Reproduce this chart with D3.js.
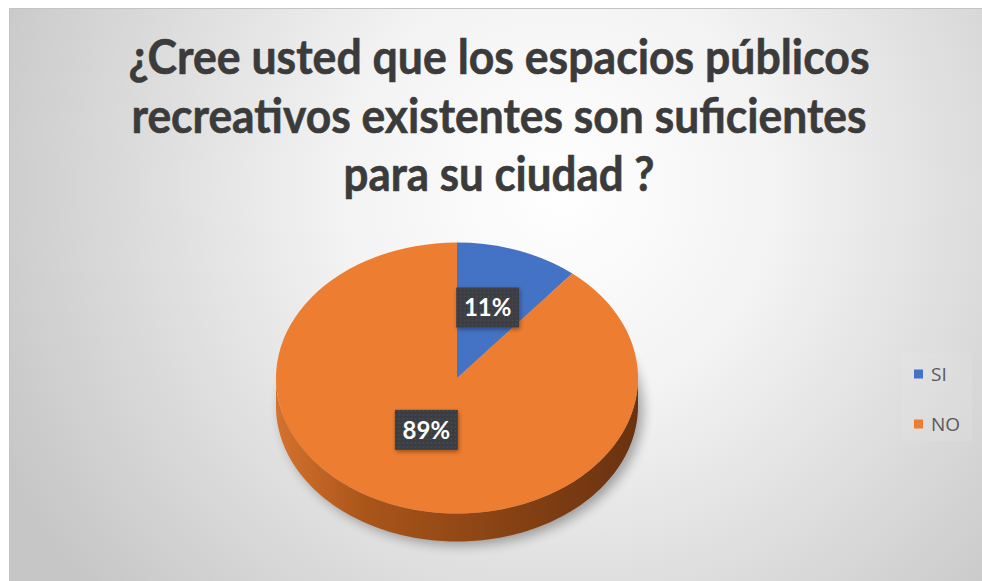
<!DOCTYPE html>
<html>
<head>
<meta charset="utf-8">
<script src="https://cdn.jsdelivr.net/npm/d3@7"></script>
<style>
  body { margin: 0; background: #fff; }
  svg { display: block; }
</style>
</head>
<body>
<div id="vis"></div>
<script>
// ==== DATA ====
const categories = ["SI", "NO"];
const values = [11, 89];
const sliceColors = ["#4472C4", "#ED7D31"];
const titleLines = [
  "¿Cree usted que los espacios públicos",
  "recreativos existentes son suficientes",
  "para su ciudad ?"
];

// ==== LAYOUT ====
const width = 982, height = 581;
const frame = {x: 9, y: 8, w: 973, h: 573};
const cx = 457, cy = 378, rx = 181, ry = 135.5, depth = 28;

const svg = d3.select("#vis")
  .append("svg")
  .attr("width", width)
  .attr("height", height);

const defs = svg.append("defs");

// background gradient
const bg = defs.append("radialGradient")
  .attr("id", "bg")
  .attr("gradientUnits", "userSpaceOnUse")
  .attr("cx", 560).attr("cy", 190).attr("r", 620);
bg.append("stop").attr("offset", 0).attr("stop-color", "#ffffff");
bg.append("stop").attr("offset", 0.35).attr("stop-color", "#f3f3f3");
bg.append("stop").attr("offset", 1).attr("stop-color", "#c6c6c6");

// side wall gradient
const side = defs.append("linearGradient")
  .attr("id", "side")
  .attr("gradientUnits", "userSpaceOnUse")
  .attr("x1", cx - rx).attr("x2", cx + rx).attr("y1", 0).attr("y2", 0);
side.append("stop").attr("offset", 0).attr("stop-color", "#d4722e");
side.append("stop").attr("offset", 0.25).attr("stop-color", "#a9551a");
side.append("stop").attr("offset", 0.6).attr("stop-color", "#8a4414");
side.append("stop").attr("offset", 1).attr("stop-color", "#6a3210");

const blur = defs.append("filter").attr("id", "blur")
  .attr("x", "-20%").attr("y", "-20%").attr("width", "140%").attr("height", "140%");
blur.append("feGaussianBlur").attr("stdDeviation", 6);

const boxShadow = defs.append("filter").attr("id", "boxShadow")
  .attr("x", "-30%").attr("y", "-30%").attr("width", "160%").attr("height", "160%");
boxShadow.append("feDropShadow")
  .attr("dx", 1).attr("dy", 2).attr("stdDeviation", 2)
  .attr("flood-color", "#000").attr("flood-opacity", 0.35);

const dots = defs.append("pattern")
  .attr("id", "dots")
  .attr("patternUnits", "userSpaceOnUse")
  .attr("width", 4).attr("height", 4);
dots.append("rect").attr("width", 4).attr("height", 4).attr("fill", "#3a3d42");
dots.append("circle").attr("cx", 1).attr("cy", 1).attr("r", 0.7).attr("fill", "#55585e");

// ==== BACKGROUND ====
svg.append("rect")
  .attr("x", frame.x + 0.5).attr("y", frame.y + 0.5)
  .attr("width", frame.w).attr("height", frame.h)
  .attr("fill", "url(#bg)")
  .attr("stroke", "#c4c4c4");

// ==== TITLE ====
const titleWidths = [741, 735, 311];
svg.append("g")
  .selectAll("text")
  .data(titleLines)
  .join("text")
  .attr("x", 499)
  .attr("y", (d, i) => 74 + i * 58.5)
  .attr("text-anchor", "middle")
  .attr("textLength", (d, i) => titleWidths[i])
  .attr("lengthAdjust", "spacingAndGlyphs")
  .style("font-family", "Lato, 'Open Sans', sans-serif")
  .style("font-weight", 700)
  .style("font-size", "47px")
  .attr("fill", "#3b3b3b")
  .attr("stroke", "#3b3b3b")
  .attr("stroke-width", 0.6)
  .text(d => d);

// ==== PIE ====
const pie = d3.pie().sort(null).value(d => d);
const arcs = pie(values);
const total = d3.sum(values);

const pt = (a, dy) => [cx + rx * Math.sin(a), cy - ry * Math.cos(a) + dy];
const line = d3.line();

function sidePath(a0, a1) {
  const n = Math.max(2, Math.ceil((a1 - a0) / 0.02));
  const angs = d3.range(n + 1).map(i => a0 + (a1 - a0) * i / n);
  const top = angs.map(a => pt(a, 0));
  const bot = angs.slice().reverse().map(a => pt(a, depth));
  return line(top.concat(bot)) + "Z";
}

// shadow under the disc
const full = d3.range(0, 2 * Math.PI + 0.01, 0.04);
svg.append("path")
  .attr("d", line(full.map(a => pt(a, depth + 4)).map(p => [p[0] + 5, p[1]])) + "Z")
  .attr("fill", "#000")
  .attr("opacity", 0.32)
  .attr("filter", "url(#blur)");

// side walls, front half only
arcs.forEach(d => {
  const a0 = Math.max(d.startAngle, Math.PI / 2);
  const a1 = Math.min(d.endAngle, 3 * Math.PI / 2);
  if (a1 > a0) {
    svg.append("path")
      .attr("d", sidePath(a0, a1))
      .attr("fill", "url(#side)");
  }
});

// top surface
const arc = d3.arc().innerRadius(0).outerRadius(rx);
svg.append("g")
  .attr("transform", `translate(${cx},${cy}) scale(1,${ry / rx})`)
  .selectAll("path")
  .data(arcs)
  .join("path")
  .attr("d", arc)
  .attr("fill", (d, i) => sliceColors[i]);

// ==== DATA LABELS ====
const fmt = d3.format(".0%");
const labels = svg.append("g")
  .selectAll("g")
  .data(arcs)
  .join("g")
  .attr("transform", d => {
    const m = (d.startAngle + d.endAngle) / 2;
    const x = cx + rx * 0.5 * Math.sin(m);
    const y = cy - depth / 3 - ry * 0.48 * Math.cos(m);
    return `translate(${x},${y})`;
  });

labels.append("rect")
  .attr("x", -31.5).attr("y", -20)
  .attr("width", 63).attr("height", 40)
  .attr("fill", "url(#dots)")
  .attr("filter", "url(#boxShadow)");

labels.append("text")
  .attr("text-anchor", "middle")
  .attr("dy", "0.36em")
  .style("font-family", "Lato, sans-serif")
  .style("font-weight", 700)
  .style("font-size", "24px")
  .attr("fill", "#fff")
  .text(d => fmt(d.value / total));

// ==== LEGEND ====
const ly = d3.scalePoint().domain(categories).range([374, 424]);

svg.append("rect")
  .attr("x", 902).attr("y", 353)
  .attr("width", 70).attr("height", 88)
  .attr("fill", "#fff").attr("opacity", 0.08);

const legend = svg.append("g")
  .selectAll("g")
  .data(categories)
  .join("g")
  .attr("transform", d => `translate(914,${ly(d)})`);

legend.append("rect")
  .attr("x", 0).attr("y", -4.5)
  .attr("width", 9).attr("height", 9)
  .attr("fill", (d, i) => sliceColors[i]);

legend.append("text")
  .attr("x", 17)
  .attr("dy", "0.35em")
  .style("font-family", "'Open Sans', sans-serif")
  .style("font-size", "19px")
  .attr("fill", "#595959")
  .text(d => d);
</script>
</body>
</html>
